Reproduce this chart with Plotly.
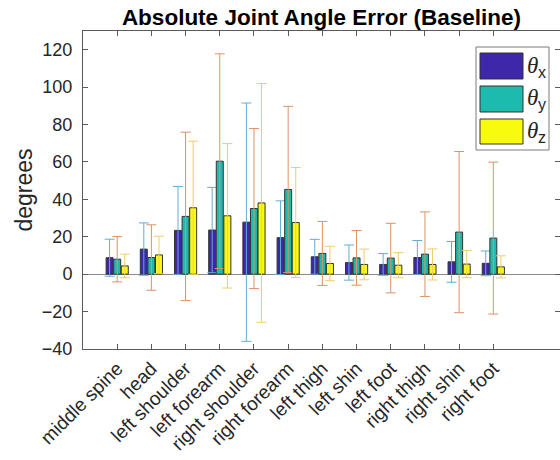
import plotly.graph_objects as go

categories = ["middle spine", "head", "left shoulder", "left forearm", "right shoulder",
              "right forearm", "left thigh", "left shin", "left foot", "right thigh",
              "right shin", "right foot"]

theta_x_mean = [8.8, 13.4, 23.4, 23.6, 27.8, 19.5, 9.3, 6.2, 5.2, 8.9, 6.6, 5.8]
theta_x_std = [9.9, 14.0, 23.5, 22.8, 63.7, 19.7, 9.3, 9.4, 5.8, 9.1, 10.9, 6.6]
theta_y_mean = [8.0, 8.9, 30.9, 60.4, 35.1, 45.3, 11.1, 8.7, 8.6, 10.7, 22.5, 19.3]
theta_y_std = [12.1, 17.5, 45.0, 57.4, 42.8, 44.4, 17.1, 14.6, 18.6, 22.6, 43.1, 40.6]
theta_z_mean = [4.4, 10.3, 35.5, 31.2, 38.1, 27.6, 5.7, 5.2, 4.8, 5.2, 5.4, 3.9]
theta_z_std = [6.3, 10.0, 35.6, 38.6, 63.8, 29.4, 9.2, 8.2, 6.7, 8.3, 7.3, 5.9]

series_names = ["θx", "θy", "θz"]
subs = ["x", "y", "z"]
y_ticks = [-40, -20, 0, 20, 40, 60, 80, 100, 120]

bar_colors = ["#3E27A8", "#1CBBAE", "#F9FB0E"]
err_colors = ["#62ADD3", "#DC9268", "#F0CD68"]

W, H = 560, 460
L, R, T, B = 83, 0, 31, 111

fig = go.Figure()
for name, m, s, bc, ec in zip(series_names,
                              [theta_x_mean, theta_y_mean, theta_z_mean],
                              [theta_x_std, theta_y_std, theta_z_std],
                              bar_colors, err_colors):
    fig.add_trace(go.Bar(
        x=categories, y=m, name=name, showlegend=False,
        marker=dict(color=bc, line=dict(color="#333333", width=1)),
        error_y=dict(type="data", array=s, visible=True, color=ec,
                     thickness=1, width=5),
    ))

font_family = "Liberation Sans, Arial, sans-serif"

# manual MATLAB-style legend (pixel helpers -> paper coords)
def px(xp):
    return (xp - L) / (W - L - R)

def py(yp):
    return (H - B - yp) / (H - T - B)

shapes = [dict(type="rect", xref="paper", yref="paper",
               x0=px(476), x1=px(549), y0=py(150), y1=py(47),
               fillcolor="white", line=dict(color="#7a7a7a", width=1), layer="above")]
annotations = []
rows = [(53, 79), (86, 112), (119, 144)]
for (y0, y1), bc, sub in zip(rows, bar_colors, subs):
    shapes.append(dict(type="rect", xref="paper", yref="paper",
                       x0=px(480), x1=px(523), y0=py(y1), y1=py(y0),
                       fillcolor=bc, line=dict(color="#333333", width=1), layer="above"))
    annotations.append(dict(
        xref="paper", yref="paper", x=px(525), y=py((y0 + y1) / 2 - 1),
        xanchor="left", yanchor="middle", showarrow=False,
        text="<i>θ</i>",
        font=dict(family="Liberation Serif, serif", size=23, color="#262626"),
    ))
    annotations.append(dict(
        xref="paper", yref="paper", x=px(536), y=py((y0 + y1) / 2 + 6),
        xanchor="left", yanchor="middle", showarrow=False,
        text=sub,
        font=dict(family=font_family, size=16, color="#262626"),
    ))

fig.update_layout(
    width=W, height=H,
    margin=dict(l=L, r=R, t=T, b=B, autoexpand=False),
    paper_bgcolor="white", plot_bgcolor="white",
    barmode="group", bargap=0.334, bargroupgap=0.08,
    font=dict(family=font_family, color="#262626"),
    title=dict(text="<b>Absolute Joint Angle Error (Baseline)</b>",
               x=0.5, xref="paper", xanchor="center",
               y=1 - 17 / H, yref="container", yanchor="middle",
               font=dict(size=22.5, color="black", family=font_family)),
    shapes=shapes, annotations=annotations,
)

fig.update_xaxes(
    range=[-1, 12.95], showline=True, linecolor="#5a5a5a", linewidth=1,
    mirror="ticks", ticks="inside", ticklen=5, tickcolor="#5a5a5a",
    tickangle=-45, tickfont=dict(size=19, color="#262626"),
    showgrid=False, zeroline=False,
)
fig.update_yaxes(
    range=[-40, 130], tickvals=y_ticks, showline=True, linecolor="#5a5a5a", linewidth=1,
    mirror="ticks", ticks="inside", ticklen=5, tickcolor="#5a5a5a",
    tickfont=dict(size=18, color="#262626"), ticklabelstandoff=6,
    showgrid=False, zeroline=True, zerolinecolor="#8a8a8a", zerolinewidth=1,
    title=dict(text="degrees", font=dict(size=23, color="#262626"), standoff=2),
)

fig.write_html("out.html", config={"displayModeBar": False},
               post_script="document.body.style.margin='0';")
